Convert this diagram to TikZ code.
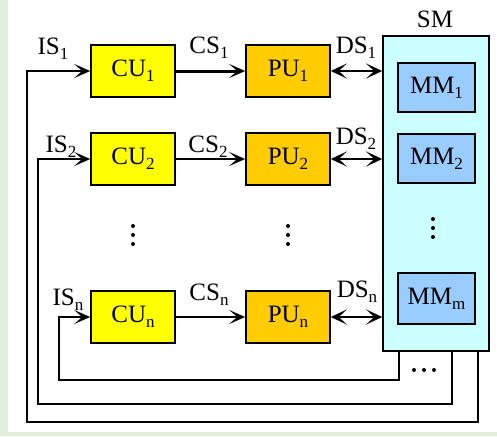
\documentclass[tikz,border=0pt]{standalone}
\usepackage{fontspec}
\setmainfont{Liberation Serif}
\usetikzlibrary{arrows.meta}
\definecolor{bggreen}{RGB}{227,237,220}
\definecolor{cuyellow}{RGB}{255,255,0}
\definecolor{puorange}{RGB}{255,204,0}
\definecolor{smcyan}{RGB}{204,255,255}
\definecolor{mmblue}{RGB}{153,204,255}
\newcommand\sbs[1]{\raisebox{-5pt}{\fontsize{17}{17}\selectfont #1}}
\tikzset{
  unitbox/.style={draw, line width=1.6pt, minimum width=84pt, minimum height=52pt,
    inner sep=0pt, font=\fontsize{25}{25}\selectfont},
  cubox/.style={unitbox, fill=cuyellow},
  pubox/.style={unitbox, fill=puorange},
  smbox/.style={draw, line width=1.6pt, fill=smcyan, minimum width=106pt,
    minimum height=315pt, inner sep=0pt},
  mmbox/.style={draw, line width=1.6pt, fill=mmblue, minimum width=77pt,
    minimum height=49pt, inner sep=0pt, font=\fontsize{25}{25}\selectfont},
  lab/.style={anchor=base, inner sep=0pt, font=\fontsize{25}{25}\selectfont},
  tip/.style={-{Stealth[length=16pt,width=14pt,inset=8pt]}},
  flow/.style={line width=2.2pt, tip},
  flowthick/.style={line width=3pt, tip},
  dsarrow/.style={line width=2.8pt,
    {Stealth[length=16pt,width=15pt,inset=8pt]}-{Stealth[length=16pt,width=15pt,inset=8pt]}},
  loopline/.style={line width=2.2pt, tip},
  dotmark/.style={fill=black}
}
\begin{document}
\begin{tikzpicture}[x=1pt,y=-1pt]
\useasboundingbox (0,0) rectangle (497,436);
\fill[bggreen] (0,0) rectangle (497,436);
\fill[white] (8,0) rectangle (497,432);

% boxes
\node[cubox] (CU1) at (133,71) {CU\sbs{1}};
\node[cubox] (CU2) at (133,159) {CU\sbs{2}};
\node[cubox] (CUn) at (133,317) {CU\sbs{n}};
\node[pubox] (PU1) at (288,71) {PU\sbs{1}};
\node[pubox] (PU2) at (288,159) {PU\sbs{2}};
\node[pubox] (PUn) at (288,317) {PU\sbs{n}};
\node[smbox] (SM) at (436,193.5) {};
\node[mmbox] (MM1) at (436.5,87.5) {MM\sbs{1}};
\node[mmbox] (MM2) at (436.5,158.5) {MM\sbs{2}};
\node[mmbox, minimum height=51pt] (MMm) at (436.5,298.5) {MM\sbs{m}};

% labels
\node[lab] (SMl) at (435,28) {SM};
\node[lab] (IS1) at (53,55) {IS\sbs{1}};
\node[lab] (CS1) at (209,53) {CS\sbs{1}};
\node[lab] (DS1) at (356,53) {DS\sbs{1}};
\node[lab] (IS2) at (61,152) {IS\sbs{2}};
\node[lab] (CS2) at (208,152) {CS\sbs{2}};
\node[lab] (DS2) at (356,144) {DS\sbs{2}};
\node[lab] (ISn) at (68,305) {IS\sbs{n}};
\node[lab] (CSn) at (209,300) {CS\sbs{n}};
\node[lab] (DSn) at (357,297) {DS\sbs{n}};

% CU -> PU
\draw[flowthick] (CU1) -- (PU1);
\draw[flow] (CU2) -- (PU2);
\draw[flow] (CUn) -- (PUn);

% PU <-> SM
\draw[dsarrow] (PU1.east) -- (PU1.east -| SM.west);
\draw[dsarrow] (PU2.east) -- (PU2.east -| SM.west);
\draw[dsarrow] (PUn.east) -- (PUn.east -| SM.west);

% feedback loops
\coordinate (L1) at (27,71);
\coordinate (B1) at (478,422);
\coordinate (L2) at (38,159);
\coordinate (B2) at (452,404);
\coordinate (L3) at (59,317);
\coordinate (B3) at (399,380);
\draw[loopline] (SM.south -| B1) -- (B1) -| (L1) -- (CU1.west);
\draw[loopline] (SM.south -| B2) -- (B2) -| (L2) -- (CU2.west);
\draw[loopline] (SM.south -| B3) -- (B3) -| (L3) -- (CUn.west);

% vertical dots
\foreach \yy in {226,235,244} {
  \fill[dotmark] (133,\yy) circle[radius=2pt];
  \fill[dotmark] (288,\yy) circle[radius=2pt];
}
\foreach \yy in {219,228,237} {
  \fill[dotmark] (433,\yy) circle[radius=2pt];
}
% horizontal dots
\foreach \xx in {414,424,434} {
  \fill[dotmark] (\xx,370) circle[radius=2pt];
}
\end{tikzpicture}
\end{document}
